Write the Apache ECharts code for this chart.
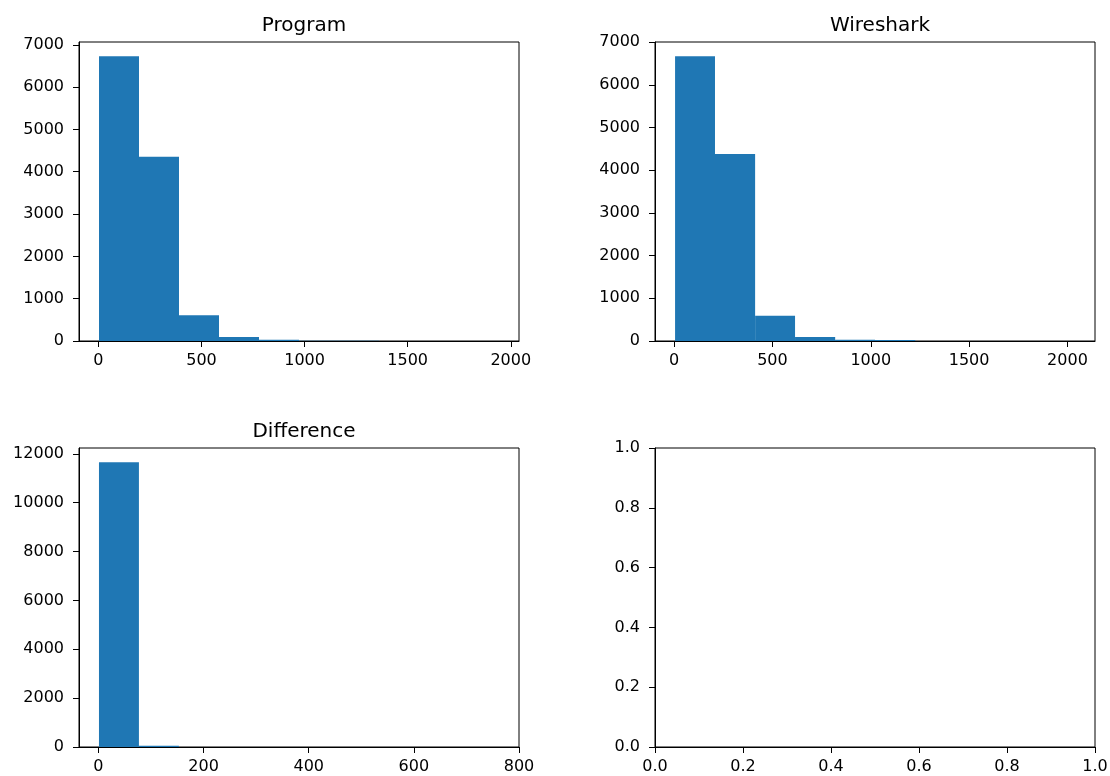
<!DOCTYPE html>
<html>
<head>
<meta charset="utf-8">
<script src="https://cdn.jsdelivr.net/npm/echarts@6/dist/echarts.min.js"></script>
<style>
html,body{margin:0;padding:0;background:#fff;}
#main{width:1110px;height:776px;}
</style>
</head>
<body>
<div id="main"></div>
<script>
// ---- data ----
const titles = ['Program', 'Wireshark', 'Difference'];

const programEdges  = [3, 197, 391, 585, 779, 973, 1167, 1361, 1555, 1749, 1943];
const programCounts = [6730, 4354, 607, 94, 30, 8, 3, 1, 1, 1];

const wiresharkEdges  = [5, 208, 412, 615, 819, 1022, 1226, 1429, 1632, 1836, 2039];
const wiresharkCounts = [6670, 4378, 592, 94, 30, 25, 2, 1, 0, 1];

const differenceEdges  = [1, 77, 153, 229, 305, 381, 458, 534, 610, 686, 762];
const differenceCounts = [11660, 50, 4, 2, 1, 1, 0, 0, 0, 1];

const progXTicks = [0, 500, 1000, 1500, 2000];
const progYTicks = [0, 1000, 2000, 3000, 4000, 5000, 6000, 7000];
const wireXTicks = [0, 500, 1000, 1500, 2000];
const wireYTicks = [0, 1000, 2000, 3000, 4000, 5000, 6000, 7000];
const diffXTicks = [0, 200, 400, 600, 800];
const diffYTicks = [0, 2000, 4000, 6000, 8000, 10000, 12000];
const emptyTicks = [0, 0.2, 0.4, 0.6, 0.8, 1.0];

// ---- build ----
function histData(edges, counts) {
  return counts.map((c, i) => [edges[i], edges[i + 1], c]);
}

const BAR = '#1f77b4';
const FONT = 'DejaVu Sans';

const grids = [
  {left: 79, top: 42, width: 440, height: 299},
  {left: 655, top: 42, width: 440, height: 299},
  {left: 79, top: 448, width: 440, height: 299},
  {left: 655, top: 448, width: 440, height: 299}
].map(g => Object.assign({show: true, borderColor: '#000', borderWidth: 1, outerBoundsMode: 'none', backgroundColor: 'transparent'}, g));

function xAxis(idx, min, max, ticks, fmt) {
  return {
    type: 'value', gridIndex: idx, min: min, max: max,
    axisLine: {show: true, onZero: false, lineStyle: {color: '#000', width: 1}},
    axisTick: {show: true, inside: false, length: 6, lineStyle: {color: '#000', width: 1}, customValues: ticks},
    axisLabel: {show: true, margin: 12, fontFamily: FONT, fontSize: 16, color: '#000', customValues: ticks, formatter: fmt},
    splitLine: {show: false}
  };
}
function yAxis(idx, min, max, ticks, fmt) {
  return {
    type: 'value', gridIndex: idx, min: min, max: max,
    axisLine: {show: true, onZero: false, lineStyle: {color: '#000', width: 1}},
    axisTick: {show: true, inside: false, length: 6, lineStyle: {color: '#000', width: 1}, customValues: ticks},
    axisLabel: {show: true, margin: 15, fontFamily: FONT, fontSize: 16, color: '#000', customValues: ticks, formatter: fmt},
    splitLine: {show: false}
  };
}
const intFmt = v => String(Math.round(v));
const decFmt = v => Number(v).toFixed(1);

function histSeries(idx, data) {
  return {
    type: 'custom', xAxisIndex: idx, yAxisIndex: idx, clip: true,
    data: data,
    encode: {x: [0, 1], y: 2},
    renderItem: function (params, api) {
      const p0 = api.coord([api.value(0), 0]);
      const p1 = api.coord([api.value(1), api.value(2)]);
      return {
        type: 'rect',
        shape: {x: p0[0], y: p1[1], width: p1[0] - p0[0], height: p0[1] - p1[1]},
        style: {fill: BAR}
      };
    }
  };
}

const titleCenters = [[299, 11], [875, 11], [299, 417]];

const option = {
  animation: false,
  backgroundColor: '#fff',
  title: titles.map((t, i) => ({
    text: t, left: titleCenters[i][0], top: titleCenters[i][1], textAlign: 'center',
    textStyle: {fontFamily: FONT, fontSize: 20, fontWeight: 'normal', color: '#000'}
  })),
  grid: grids,
  xAxis: [
    xAxis(0, -94, 2040, progXTicks, intFmt),
    xAxis(1, -97, 2140, wireXTicks, intFmt),
    xAxis(2, -37, 800, diffXTicks, intFmt),
    xAxis(3, 0, 1, emptyTicks, decFmt)
  ],
  yAxis: [
    yAxis(0, 0, 7066, progYTicks, intFmt),
    yAxis(1, 0, 7004, wireYTicks, intFmt),
    yAxis(2, 0, 12240, diffYTicks, intFmt),
    yAxis(3, 0, 1, emptyTicks, decFmt)
  ],
  series: [
    histSeries(0, histData(programEdges, programCounts)),
    histSeries(1, histData(wiresharkEdges, wiresharkCounts)),
    histSeries(2, histData(differenceEdges, differenceCounts))
  ]
};

const chart = echarts.init(document.getElementById('main'), null, {renderer: 'canvas'});
chart.setOption(option);
</script>
</body>
</html>
